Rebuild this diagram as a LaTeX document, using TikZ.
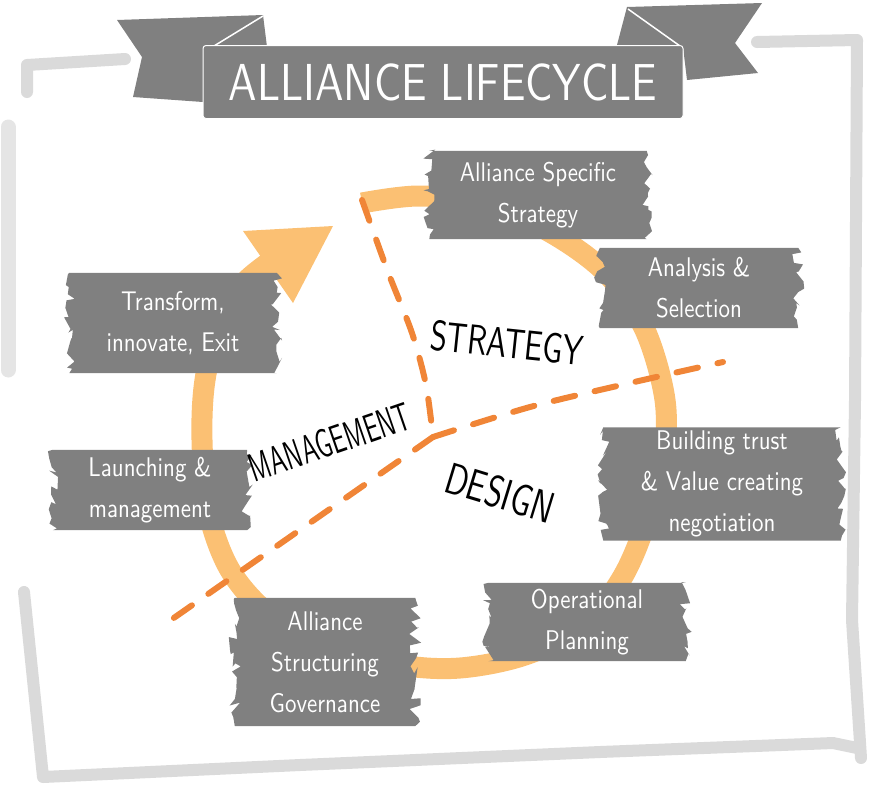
\documentclass[tikz,border=0pt]{standalone}
\usepackage{fontspec}
\usepackage{xcolor}
\usetikzlibrary{decorations.pathmorphing,backgrounds}

\newfontfamily\handfont{lmsans10-regular.otf}[FakeStretch=0.85]
\newfontfamily\titlefont{lmsans10-regular.otf}[FakeStretch=0.82]
\newfontfamily\markfont{lmsans10-regular.otf}[FakeStretch=0.72]
\newfontfamily\tallfont{lmsans10-regular.otf}[FakeStretch=0.6]

\definecolor{boxgray}{RGB}{128,128,128}
\definecolor{framegray}{RGB}{218,218,218}
\definecolor{ringorange}{RGB}{251,192,115}
\definecolor{dashorange}{RGB}{240,133,55}

\begin{document}
\begin{tikzpicture}[x=1pt, y=-1pt,
	stage/.style={text=white, align=center, inner sep=0pt, font=\handfont\fontsize{27}{41}\selectfont},
	brush/.style={fill=boxgray, decoration={random steps, segment length=5pt, amplitude=6pt}},
	border/.style={draw=framegray, line width=12pt, line cap=round, line join=round},
	ring/.style={draw=ringorange, line width=21pt},
	divider/.style={draw=dashorange, line width=6pt, line cap=round, dash pattern=on 22pt off 20pt},
	handlabel/.style={font=\markfont\fontsize{#1}{#1}\selectfont}]
	\pgfmathsetseed{7}
	\useasboundingbox (0,0) rectangle (875,788);

	% frame
	\draw[border] (125,59) -- (27,65) -- (27,92);
	\draw[border, draw=framegray!70, line width=15pt] (8,127) -- (8,370);
	\draw[border] (757,42) -- (857,40) -- (855,400) -- (852,620) -- (861,758);
	\draw[border] (857,748) -- (833,743) -- (600,752) -- (300,765) -- (43,777) -- (24,592);

	% banner
	\fill[boxgray] (117,20) -- (263,15) -- (267,47) -- (207,47) -- (203,102) -- (133,97) -- (142,57) -- cycle;
	\fill[boxgray] (627,7) -- (762,3) -- (735,43) -- (758,73) -- (687,80) -- (683,47) -- (617,45) -- cycle;
	\draw[white, line width=1.5pt] (263,16) -- (214,46);
	\draw[white, line width=1.5pt] (628,9) -- (680,46);
	\node[fill=boxgray, draw=white, line width=1pt, rounded corners=3pt, minimum width=480pt, minimum height=73pt,
		text=white, font=\titlefont\fontsize{52}{52}\selectfont] (title) at (443,82) {ALLIANCE LIFECYCLE};

	% stages
	\node[stage, minimum width=217pt, minimum height=88pt] (strat) at (538,195) {Alliance Specific\\Strategy};
	\node[stage, minimum width=198pt, minimum height=80pt] (anal) at (699,288) {Analysis \&\\Selection};
	\node[stage, minimum width=237pt, minimum height=113pt] (trust) at (722,484) {Building trust\\\& Value creating\\negotiation};
	\node[stage, minimum width=197pt, minimum height=78pt] (oper) at (587,622) {Operational\\Planning};
	\node[stage, minimum width=180pt, minimum height=128pt] (struct) at (325,662) {Alliance\\Structuring\\Governance};
	\node[stage, minimum width=194pt, minimum height=80pt] (launch) at (150,490) {Launching \&\\management};
	\node[stage, minimum width=207pt, minimum height=100pt] (trans) at (173,323) {Transform,\\innovate, Exit};

	\begin{scope}[on background layer]
	\draw[ring] plot[smooth, tension=0.55] coordinates {(362,203) (420,196) (490,205) (555,235) (608,275)
		(645,330) (665,400) (663,460) (645,525) (622,578) (585,625) (525,655) (460,668) (400,665)
		(330,648) (270,615) (230,570) (208,510) (202,440) (205,380) (220,320) (245,282) (278,256)};
	\coordinate (tip) at (333,226);
	\fill[ringorange] (243,231) -- (tip) -- (293,303) -- cycle;

	\coordinate (hub) at (433,437);
	\coordinate (top) at (362,200);
	\coordinate (east) at (723,362);
	\coordinate (west) at (168,622);
	\draw[divider] plot[smooth] coordinates {(top) (388,272) (412,333) (426,385) (hub)};
	\draw[divider] plot[smooth] coordinates {(hub) (530,407) (630,383) (east)};
	\draw[divider] (hub) -- (west);

	\foreach \b in {strat,anal,trust,oper,struct,launch,trans}
		\fill[brush] (\b.north west) -- (\b.north east) decorate {-- (\b.south east)}
			-- (\b.south west) decorate {-- (\b.north west)} -- cycle;
	\end{scope}

	% phases
	\node[handlabel=42, rotate=-6] (strategy) at (507,343) {STRATEGY};
	\node[font=\tallfont\fontsize{40}{40}\selectfont, rotate=19] (management) at (330,442) {MANAGEMENT};
	\node[handlabel=44, rotate=-17] (design) at (500,493) {DESIGN};
\end{tikzpicture}
\end{document}
